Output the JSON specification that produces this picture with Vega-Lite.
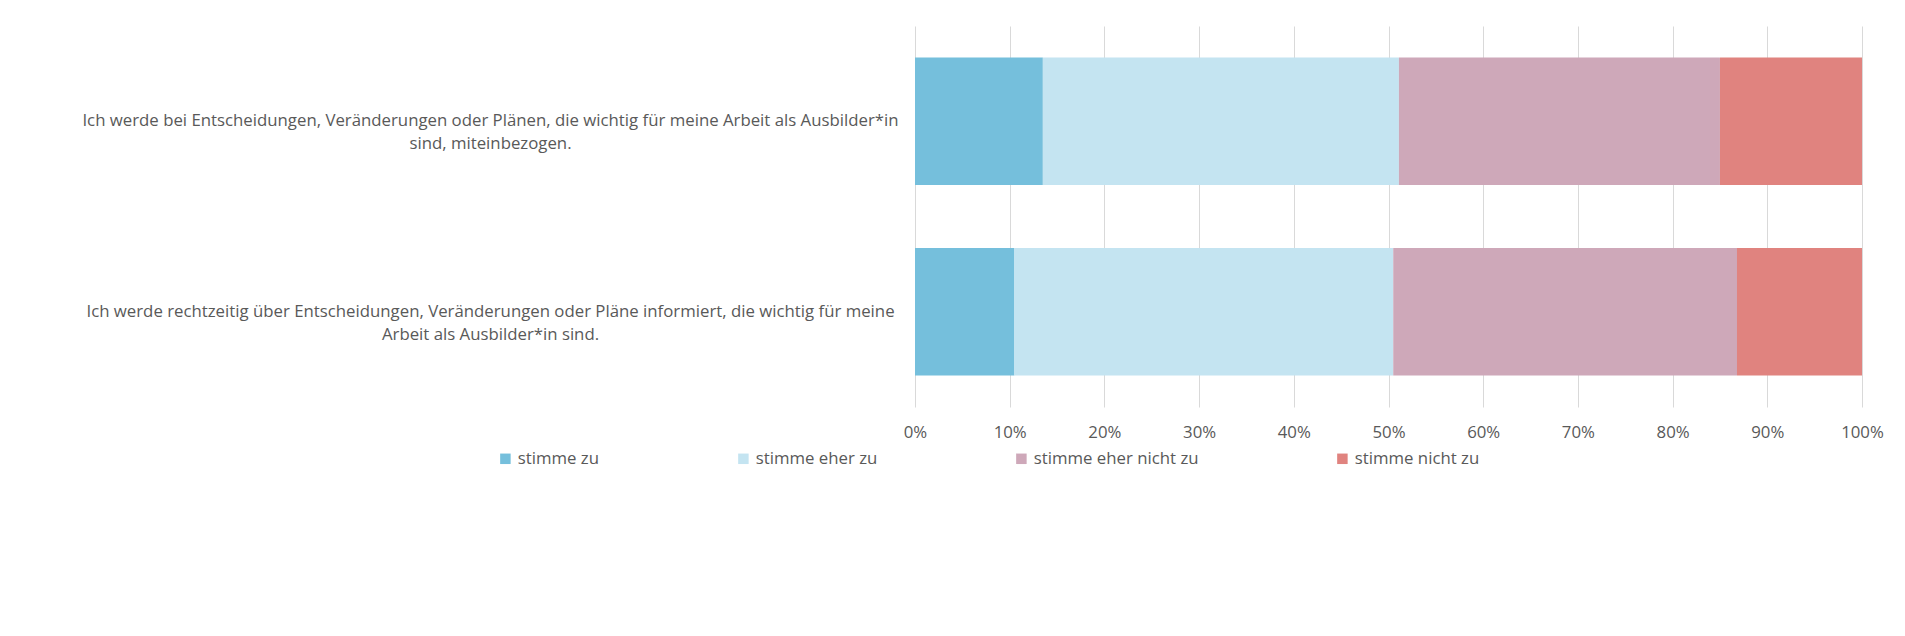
{
  "$schema": "https://vega.github.io/schema/vega-lite/v6.json",
  "width": 947,
  "height": 381,
  "autosize": {"type": "none"},
  "padding": {"left": 915, "top": 26, "right": 43, "bottom": 229},
  "background": "white",
  "config": {"font": "Open Sans", "view": {"stroke": null}},
  "data": {
    "values": [
      {"frage": "Ich werde bei Entscheidungen, Veränderungen oder Plänen, die wichtig für meine Arbeit als Ausbilder*in sind, miteinbezogen.", "antwort": "stimme zu", "nr": 1, "anteil": 0.135},
      {"frage": "Ich werde bei Entscheidungen, Veränderungen oder Plänen, die wichtig für meine Arbeit als Ausbilder*in sind, miteinbezogen.", "antwort": "stimme eher zu", "nr": 2, "anteil": 0.376},
      {"frage": "Ich werde bei Entscheidungen, Veränderungen oder Plänen, die wichtig für meine Arbeit als Ausbilder*in sind, miteinbezogen.", "antwort": "stimme eher nicht zu", "nr": 3, "anteil": 0.339},
      {"frage": "Ich werde bei Entscheidungen, Veränderungen oder Plänen, die wichtig für meine Arbeit als Ausbilder*in sind, miteinbezogen.", "antwort": "stimme nicht zu", "nr": 4, "anteil": 0.150},
      {"frage": "Ich werde rechtzeitig über Entscheidungen, Veränderungen oder Pläne informiert, die wichtig für meine Arbeit als Ausbilder*in sind.", "antwort": "stimme zu", "nr": 1, "anteil": 0.105},
      {"frage": "Ich werde rechtzeitig über Entscheidungen, Veränderungen oder Pläne informiert, die wichtig für meine Arbeit als Ausbilder*in sind.", "antwort": "stimme eher zu", "nr": 2, "anteil": 0.400},
      {"frage": "Ich werde rechtzeitig über Entscheidungen, Veränderungen oder Pläne informiert, die wichtig für meine Arbeit als Ausbilder*in sind.", "antwort": "stimme eher nicht zu", "nr": 3, "anteil": 0.363},
      {"frage": "Ich werde rechtzeitig über Entscheidungen, Veränderungen oder Pläne informiert, die wichtig für meine Arbeit als Ausbilder*in sind.", "antwort": "stimme nicht zu", "nr": 4, "anteil": 0.132}
    ]
  },
  "mark": {"type": "bar"},
  "encoding": {
    "y": {
      "field": "frage",
      "type": "nominal",
      "sort": [
        "Ich werde bei Entscheidungen, Veränderungen oder Plänen, die wichtig für meine Arbeit als Ausbilder*in sind, miteinbezogen.",
        "Ich werde rechtzeitig über Entscheidungen, Veränderungen oder Pläne informiert, die wichtig für meine Arbeit als Ausbilder*in sind."
      ],
      "scale": {"paddingInner": 0.33, "paddingOuter": 0.165},
      "axis": {
        "title": null,
        "domain": false,
        "ticks": false,
        "grid": false,
        "labelAlign": "center",
        "labelBaseline": "middle",
        "labelPadding": 425,
        "labelLimit": 1200,
        "labelFontSize": 16.8,
        "labelColor": "#595959",
        "labelLineHeight": 23,
        "labelExpr": "indexof(datum.value, 'rechtzeitig') >= 0 ? ['Ich werde rechtzeitig über Entscheidungen, Veränderungen oder Pläne informiert, die wichtig für meine', 'Arbeit als Ausbilder*in sind.'] : ['Ich werde bei Entscheidungen, Veränderungen oder Plänen, die wichtig für meine Arbeit als Ausbilder*in', 'sind, miteinbezogen.']"
      }
    },
    "x": {
      "field": "anteil",
      "type": "quantitative",
      "stack": "zero",
      "scale": {"domain": [0, 1], "nice": false},
      "axis": {
        "title": null,
        "format": ".0%",
        "values": [0, 0.1, 0.2, 0.3, 0.4, 0.5, 0.6, 0.7, 0.8, 0.9, 1],
        "domain": false,
        "ticks": false,
        "grid": true,
        "gridColor": "#D9D9D9",
        "gridWidth": 1,
        "labelColor": "#595959",
        "labelFontSize": 16.8,
        "labelPadding": 17,
        "labelFlush": false
      }
    },
    "color": {
      "field": "antwort",
      "type": "nominal",
      "sort": ["stimme zu", "stimme eher zu", "stimme eher nicht zu", "stimme nicht zu"],
      "scale": {
        "domain": ["stimme zu", "stimme eher zu", "stimme eher nicht zu", "stimme nicht zu"],
        "range": ["#75BFDC", "#C4E4F1", "#CEA8B9", "#E0837F"]
      },
      "legend": {
        "title": null,
        "orient": "none",
        "direction": "horizontal",
        "legendX": -418,
        "legendY": 424,
        "columnPadding": 135,
        "symbolType": "square",
        "symbolSize": 110,
        "symbolStrokeWidth": 0,
        "symbolOpacity": 1,
        "labelFontSize": 16.8,
        "labelColor": "#595959",
        "labelOffset": 4,
        "labelLimit": 400
      }
    },
    "order": {"field": "nr", "type": "quantitative"}
  }
}
